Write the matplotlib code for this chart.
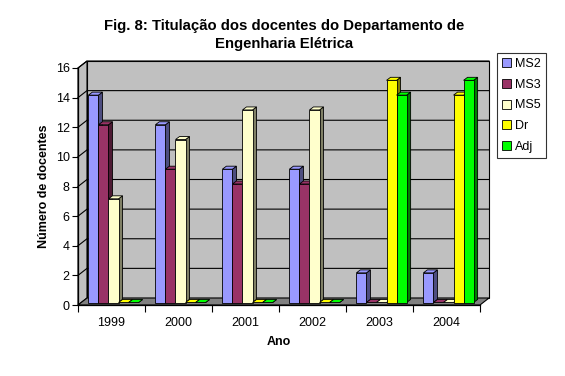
import matplotlib
matplotlib.use("Agg")
import matplotlib.pyplot as plt
from matplotlib.patches import Polygon, Rectangle
from matplotlib.colors import to_rgb
import numpy as np

plt.rcParams['font.family'] = ['Liberation Sans', 'DejaVu Sans']

years = ['1999', '2000', '2001', '2002', '2003', '2004']
series_names = ['MS2', 'MS3', 'MS5', 'Dr', 'Adj']
ms2 = [14, 12, 9, 9, 2, 2]
ms3 = [12, 9, 8, 8, 0, 0]
ms5 = [7, 11, 13, 13, 0, 0]
dr = [0, 0, 0, 0, 15, 14]
adj = [0, 0, 0, 0, 14, 15]
series_values = [ms2, ms3, ms5, dr, adj]
colors = ['#9999FF', '#993366', '#FFFFCC', '#FFFF00', '#00FF00']
y_ticks = list(range(0, 17, 2))

W, H = 565, 376
fig = plt.figure(figsize=(W / 100, H / 100), dpi=100)
x0, x1, yb, yt = 78, 480, 305, 68
ax = fig.add_axes([x0 / W, 1 - yb / H, (x1 - x0) / W, (yb - yt) / H])
ax.set_xlim(0, 6)
ax.set_ylim(0, 16)
ax.patch.set_visible(False)
for s in ['top', 'right']:
    ax.spines[s].set_visible(False)
ax.spines['left'].set_linewidth(0.9)
ax.spines['bottom'].set_linewidth(0.9)

pxx = 6 / (x1 - x0)
pxy = 16 / (yb - yt)
wdx, wdy = 9 * pxx, 7 * pxy      # wall depth
bdx, bdy = 4 * pxx, 3 * pxy      # bar depth
ox, oy = 2 * pxx, 2.5 * pxy      # bar front offset

# back wall
ax.add_patch(Polygon([(wdx, wdy), (6 + wdx, wdy), (6 + wdx, 16 + wdy), (wdx, 16 + wdy)],
                     closed=True, facecolor='#C0C0C0', edgecolor='black', lw=0.8,
                     clip_on=False, zorder=0))
# left side wall
ax.add_patch(Polygon([(0, 0), (wdx, wdy), (wdx, 16 + wdy), (0, 16)],
                     closed=True, facecolor='#C0C0C0', edgecolor='black', lw=0.8,
                     clip_on=False, zorder=0))
# floor
ax.add_patch(Polygon([(0, 0), (6, 0), (6 + wdx, wdy), (wdx, wdy)],
                     closed=True, facecolor='#808080', edgecolor='black', lw=0.8,
                     clip_on=False, zorder=0.5))
# gridlines
for t in y_ticks[1:]:
    ax.plot([0, wdx, 6 + wdx], [t, t + wdy, t + wdy], color='black', lw=0.8,
            clip_on=False, zorder=0.6)

bw = 0.15
nser = len(series_values)
for j, (vals, c) in enumerate(zip(series_values, colors)):
    side = tuple(np.array(to_rgb(c)) * 0.5)
    for i, v in enumerate(vals):
        left = i + 0.5 - nser * bw / 2 + j * bw + ox
        b = oy
        top = oy + v
        z = 2 + j * 0.01
        # side face
        ax.add_patch(Polygon([(left + bw, b), (left + bw + bdx, b + bdy),
                              (left + bw + bdx, top + bdy), (left + bw, top)],
                             closed=True, facecolor=side, edgecolor='black', lw=0.6,
                             clip_on=False, zorder=z))
        # top face
        ax.add_patch(Polygon([(left, top), (left + bw, top), (left + bw + bdx, top + bdy),
                              (left + bdx, top + bdy)],
                             closed=True, facecolor=c, edgecolor='black', lw=0.6,
                             clip_on=False, zorder=z))
        # front face
        if v > 0:
            ax.add_patch(Rectangle((left, b), bw, v, facecolor=c, edgecolor='black',
                                   lw=0.6, clip_on=False, zorder=z))

ax.set_yticks(y_ticks)
ax.tick_params(axis='y', length=4, width=0.8, labelsize=9, pad=2)
ax.set_xticks([i + 0.5 for i in range(len(years))])
ax.set_xticklabels(years)
ax.set_xticks(range(0, 7), minor=True)
ax.tick_params(axis='x', which='major', length=0, labelsize=9, pad=9)
ax.tick_params(axis='x', which='minor', length=5, width=0.8)

ax.set_ylabel('Número de docentes', fontsize=9, fontweight='bold', labelpad=4)
ax.set_xlabel('Ano', fontsize=9, fontweight='bold', labelpad=5)

fig.text(284 / W, 1 - 35 / H, 'Fig. 8: Titulação dos docentes do Departamento de\nEngenharia Elétrica',
         ha='center', va='center', fontsize=10.7, fontweight='bold', linespacing=1.45)

handles = [Rectangle((0, 0), 1, 1, facecolor=c, edgecolor='black', lw=0.6) for c in colors]
leg = fig.legend(handles, series_names, loc='upper left', bbox_to_anchor=(497 / W, 1 - 53 / H),
                 fontsize=9, frameon=True, fancybox=False, edgecolor='black',
                 handlelength=0.75, handleheight=0.75, handletextpad=0.3, labelspacing=0.7,
                 borderpad=0.4, borderaxespad=0)
leg.get_frame().set_linewidth(0.8)

fig.savefig('out.png', dpi=100)
